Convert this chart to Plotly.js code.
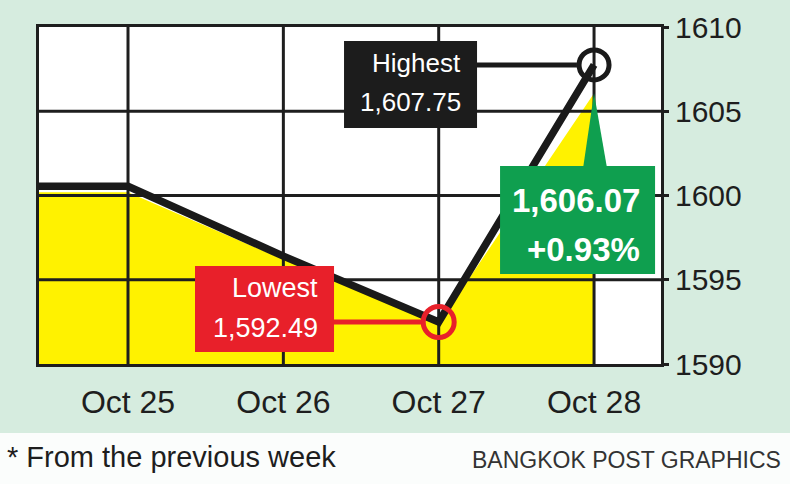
<!DOCTYPE html>
<html>
<head>
<meta charset="utf-8">
<script src="https://cdn.plot.ly/plotly-3.0.1.min.js"></script>
<style>
  html, body { margin: 0; padding: 0; background: #ffffff; }
  #chart { width: 790px; height: 484px; }
</style>
</head>
<body>
<div id="chart"></div>
<script>
// ---- data ----
const dayX = [-1, 0, 1, 2, 3];                       // -1 = previous week's level
const dayLabels = ['Oct 22', 'Oct 25', 'Oct 26', 'Oct 27', 'Oct 28'];
const closeValues = [1600.2, 1600.2, 1596.2, 1592.4, 1606.07]; // yellow area
const pathValues = [1600.55, 1600.55, 1596.4, 1592.49, 1607.75]; // black line
const yTicks = [1590, 1595, 1600, 1605, 1610];
const highValue = 1607.75, highDay = 3;
const lowValue = 1592.49, lowDay = 2;
const closeValue = 1606.07, closeDay = 3;
const changeText = '+0.93%';

const FONT = 'Liberation Sans, Arial, sans-serif';
const INK = '#1e1e1e';
const BLACKBOX = '#1c1c1c', RED = '#e8202a', GREEN = '#0f9f4f';
const xRange = [-0.573, 3.431];
const yRange = [1590, 1610];

// grid lines as a trace so they sit above the yellow area, below the black line
const gx = [], gy = [];
[0, 1, 2, 3].forEach(i => { gx.push(i, i, null); gy.push(yRange[0], yRange[1], null); });
yTicks.slice(1, -1).forEach(v => { gx.push(xRange[0], xRange[1], null); gy.push(v, v, null); });

const fmt = v => v.toLocaleString('en-US', {minimumFractionDigits: 2, maximumFractionDigits: 2});

const traces = [
  { x: dayX, y: closeValues, type: 'scatter', mode: 'lines', fill: 'tozeroy',
    fillcolor: '#fff200', line: {color: '#fff200', width: 0}, hoverinfo: 'skip' },
  { x: gx, y: gy, type: 'scatter', mode: 'lines', line: {color: INK, width: 3},
    hoverinfo: 'skip' },
  { x: dayX, y: pathValues, type: 'scatter', mode: 'lines',
    line: {color: '#1a1a1a', width: 7.5}, hoverinfo: 'skip' },
  { x: [highDay], y: [highValue], type: 'scatter', mode: 'markers',
    marker: {symbol: 'circle-open', size: 30, color: '#1a1a1a', line: {width: 5}} },
  { x: [lowDay], y: [lowValue], type: 'scatter', mode: 'markers',
    marker: {symbol: 'circle-open', size: 31, color: RED, line: {width: 5}} }
];

function box(x0, x1, y0, y1, color) {
  return {type: 'rect', xref: 'x', yref: 'y', x0, x1, y0, y1,
          fillcolor: color, line: {width: 0}, layer: 'above'};
}
function label(x, y, text, size, bold) {
  return {xref: 'x', yref: 'y', x, y, xanchor: 'right', yanchor: 'middle',
          text: bold ? '<b>' + text + '</b>' : text, showarrow: false,
          font: {family: FONT, size, color: '#ffffff'}};
}

const layout = {
  width: 790, height: 484,
  margin: {l: 39, r: 129, t: 27, b: 120},
  paper_bgcolor: '#d6ecdf',
  plot_bgcolor: '#ffffff',
  showlegend: false,
  xaxis: {
    range: xRange, showgrid: false, zeroline: false,
    tickvals: dayX.slice(1), ticktext: dayLabels.slice(1),
    ticks: '', showline: true, mirror: true, linecolor: INK, linewidth: 3,
    layer: 'above traces', ticklabelstandoff: 8,
    tickfont: {family: FONT, size: 32, color: INK}
  },
  yaxis: {
    range: yRange, side: 'right', showgrid: false, zeroline: false,
    tickvals: yTicks, ticktext: yTicks.map(String),
    ticks: 'outside', ticklen: 5, tickwidth: 3, tickcolor: INK,
    showline: true, mirror: true, linecolor: INK, linewidth: 3,
    layer: 'above traces', ticklabelstandoff: 0,
    tickfont: {family: FONT, size: 30, color: INK}
  },
  shapes: [
    // white footer strip
    {type: 'rect', xref: 'paper', yref: 'paper', x0: -0.2, x1: 1.3, y0: -0.205, y1: -0.5,
     fillcolor: '#fbfdfc', line: {width: 0}, layer: 'below'},
    // connectors
    {type: 'line', xref: 'x', yref: 'y', x0: 2.2, x1: highDay - 0.11, y0: highValue, y1: highValue,
     line: {color: '#1a1a1a', width: 5}, layer: 'above'},
    {type: 'line', xref: 'x', yref: 'y', x0: 1.3, x1: lowDay - 0.11, y0: lowValue, y1: lowValue,
     line: {color: RED, width: 5}, layer: 'above'},
    // green pointer
    {type: 'path', xref: 'x', yref: 'y',
     path: `M 2.929 1601.6 L 3.084 1601.6 L ${closeDay} ${closeValue} Z`,
     fillcolor: GREEN, line: {width: 0}, layer: 'above'},
    // label boxes
    box(1.3906, 2.2468, 1609.169, 1604.006, BLACKBOX),
    box(0.4313, 1.3262, 1595.816, 1590.712, RED),
    box(2.3949, 3.3928, 1601.751, 1595.341, GREEN)
  ],
  annotations: [
    label(2.1567, 1607.864, 'Highest', 26),
    label(2.1567, 1605.549, fmt(highValue), 26),
    label(1.2361, 1594.51, 'Lowest', 27),
    label(1.2361, 1592.137, fmt(lowValue), 27),
    label(3.309, 1599.733, fmt(closeValue), 33, true),
    label(3.309, 1596.766, changeText, 33, true),
    {xref: 'paper', yref: 'paper', x: -0.055, y: -0.276, xanchor: 'left', yanchor: 'middle',
     text: '* From the previous week', showarrow: false,
     font: {family: FONT, size: 29, color: INK}},
    {xref: 'paper', yref: 'paper', x: 1.196, y: -0.285, xanchor: 'right', yanchor: 'middle',
     text: 'BANGKOK POST GRAPHICS', showarrow: false,
     font: {family: FONT, size: 23, color: '#333333'}}
  ]
};

Plotly.newPlot('chart', traces, layout, {staticPlot: true, displayModeBar: false});
</script>
</body>
</html>
